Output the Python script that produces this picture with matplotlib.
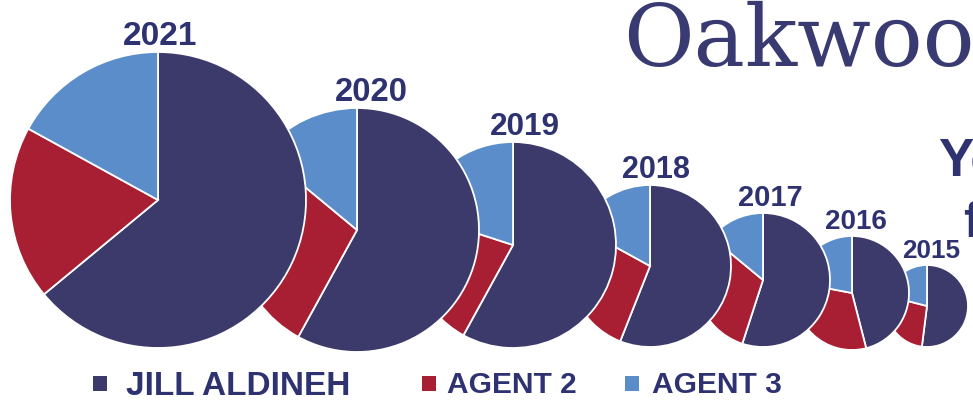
import matplotlib.pyplot as plt
from matplotlib.patches import Rectangle

# share of sales per year (percent)
years = [2021, 2020, 2019, 2018, 2017, 2016, 2015]
jill = [64, 58, 58, 56, 55, 46, 52]
agent2 = [19, 28, 22, 27, 31, 32, 27]
agent3 = [17, 14, 20, 17, 14, 22, 21]
series_names = ['JILL ALDINEH', 'AGENT 2', 'AGENT 3']

# layout in pixels (y measured from the top)
centers_x = [158, 357, 513, 650, 763, 852, 927]
centers_y = [200, 230, 245, 266, 280, 293, 306]
radii = [148, 122, 103, 81, 67, 57, 41]
label_x = [160, 371, 525, 656, 770, 856, 931]
label_sizes = [24, 23.6, 22.7, 22, 21, 20, 18.8]

W, H = 973, 405
colors = ['#3b3a6b', '#a81e33', '#5a8dca']
text_navy = '#2e3271'

fig = plt.figure(figsize=(W / 100, H / 100), dpi=100)
ax = fig.add_axes([0, 0, 1, 1])

n = len(years)
for i in range(n):
    vals = [jill[i], agent2[i], agent3[i]]
    ax.pie(vals, colors=colors, startangle=90, counterclock=False,
           center=(centers_x[i], H - centers_y[i]), radius=radii[i],
           wedgeprops={'edgecolor': 'white', 'linewidth': 1.3, 'zorder': 10 + n - i})
    ax.text(label_x[i], H - (centers_y[i] - radii[i] - 7), str(years[i]),
            ha='center', va='baseline', fontsize=label_sizes[i],
            fontweight='bold', family='Liberation Sans', color=text_navy,
            zorder=30)

# title pieces, cut off by the right edge like in the original
ax.text(623, H - 66, 'Oakwood', family='DejaVu Serif', fontsize=62,
        color='#3a3a72', ha='left', va='baseline')
ax.text(938, H - 175, 'Year', family='Liberation Sans', fontweight='bold',
        fontsize=38, color=text_navy, ha='left', va='baseline')
ax.text(963, H - 237, 'for', family='Liberation Sans', fontweight='bold',
        fontsize=36, color=text_navy, ha='left', va='baseline')

# legend
leg_sq_x = [93, 422, 625]
leg_text_x = [126, 447, 652]
for j in range(3):
    ax.add_patch(Rectangle((leg_sq_x[j], H - 391), 14, 15, color=colors[j], lw=0))
ax.text(leg_text_x[0], H - 395, series_names[0], family='Liberation Sans',
        fontweight='bold', fontsize=24, color=text_navy, va='baseline')
for j in (1, 2):
    ax.text(leg_text_x[j], H - 393, series_names[j], family='Liberation Sans',
            fontweight='bold', fontsize=21.5, color=text_navy, va='baseline')

ax.set_xlim(0, W)
ax.set_ylim(0, H)
ax.set_aspect('equal')
ax.axis('off')

fig.savefig('out.png', dpi=100, facecolor='white')
